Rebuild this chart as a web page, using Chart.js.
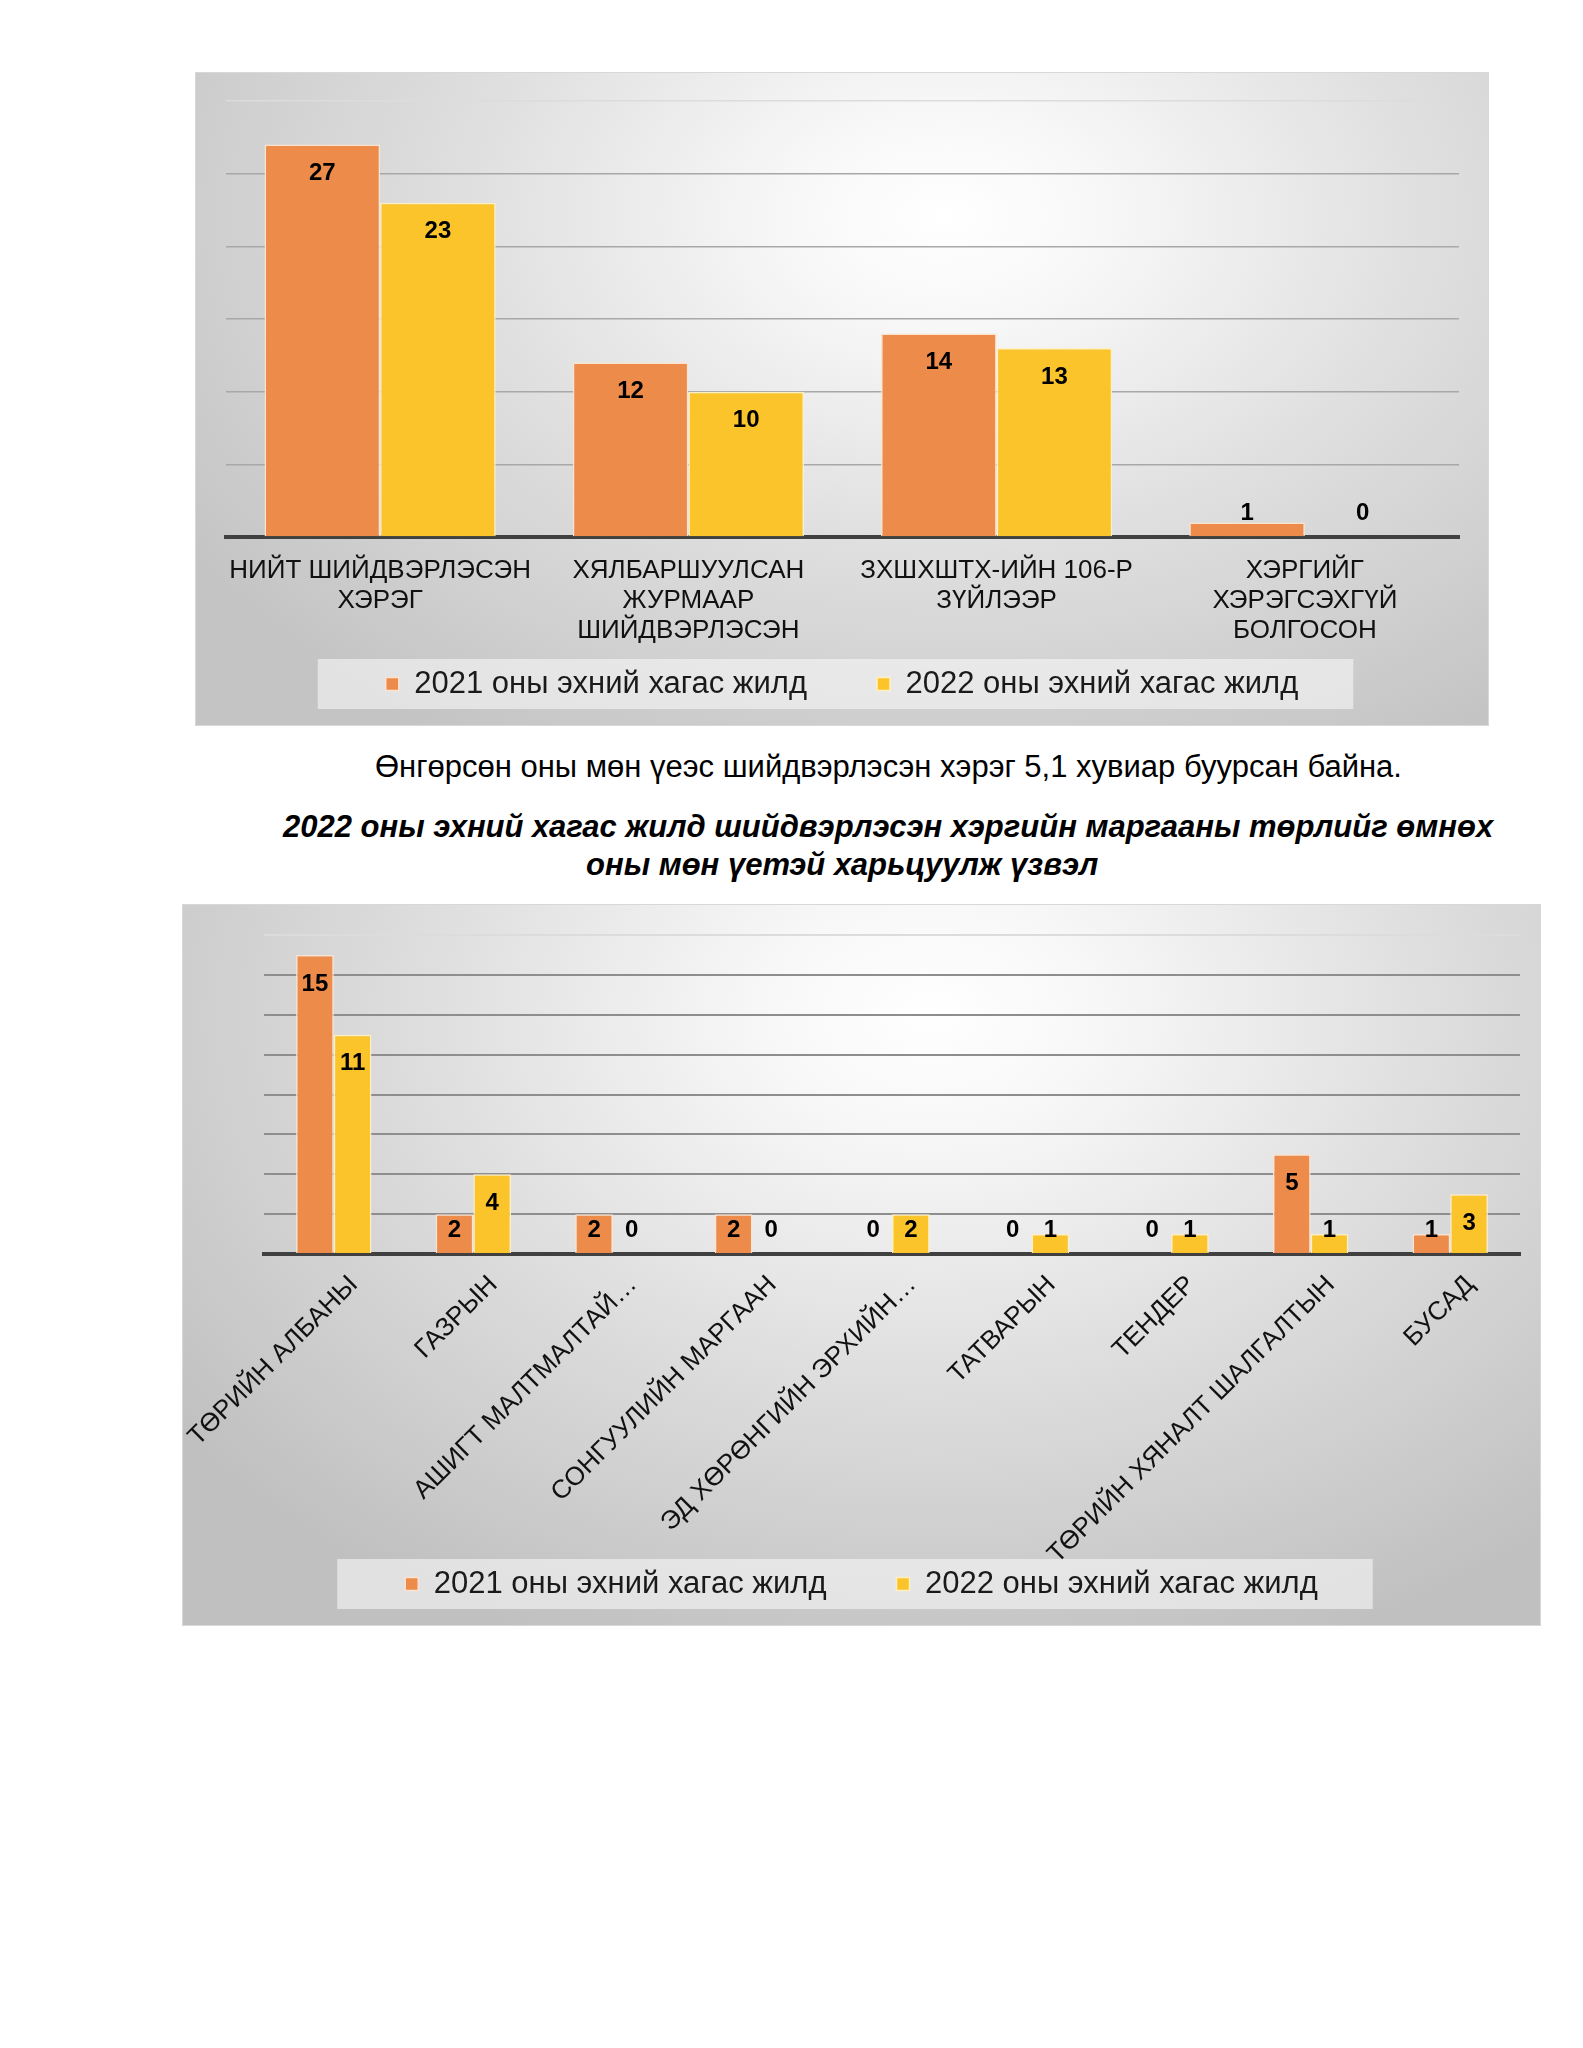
<!DOCTYPE html>
<html>
<head>
<meta charset="utf-8">
<title>Шийдвэрлэсэн хэрэг</title>
<script src="https://cdn.jsdelivr.net/npm/chart.js"></script>
<style>
  body { margin:0; width:1583px; height:2048px; background:#fff; position:relative;
         font-family:"Liberation Sans", Arial, sans-serif; color:#000; }
  .frame { position:absolute; box-shadow:0 0 0 1px #d8d8d8; }
  .frame canvas { position:absolute; left:0; top:0; }
  #f1 { left:196px; top:73px; width:1292px; height:652px;
        background:radial-gradient(ellipse 70% 95% at 58% 22%, #ffffff 0%, #f7f7f7 18%, #dedede 55%, #c4c4c4 100%); }
  #f2 { left:183px; top:905px; width:1357px; height:720px;
        background:radial-gradient(ellipse 70% 95% at 55% 15%, #ffffff 0%, #f7f7f7 18%, #dddddd 55%, #c0c0c0 100%); }
  .txt { position:absolute; white-space:nowrap; line-height:36px; }
  #note { left:375px; top:749px; font-size:31px; }
  .ttl { font-size:31px; font-weight:bold; font-style:italic; }
  #t1 { left:283px; top:809px; }
  #t2 { left:586px; top:847px; }
</style>
</head>
<body>
  <div class="frame" id="f1"><canvas id="chart1" width="1292" height="652"></canvas></div>
  <div class="txt" id="note">Өнгөрсөн оны мөн үеэс шийдвэрлэсэн хэрэг 5,1 хувиар буурсан байна.</div>
  <div class="txt ttl" id="t1">2022 оны эхний хагас жилд шийдвэрлэсэн хэргийн маргааны төрлийг өмнөх</div>
  <div class="txt ttl" id="t2">оны мөн үетэй харьцуулж үзвэл</div>
  <div class="frame" id="f2"><canvas id="chart2" width="1357" height="720"></canvas></div>

  <script>
    const FONT = '"Liberation Sans", Arial, sans-serif';
    const seriesNames = ["2021 оны эхний хагас жилд", "2022 оны эхний хагас жилд"];
    const seriesColors = ["#EC8B4A", "#FAC42A"];

    // first chart
    const cats1 = [
      ["НИЙТ ШИЙДВЭРЛЭСЭН", "ХЭРЭГ"],
      ["ХЯЛБАРШУУЛСАН", "ЖУРМААР", "ШИЙДВЭРЛЭСЭН"],
      ["ЗХШХШТХ-ИЙН 106-Р", "ЗҮЙЛЭЭР"],
      ["ХЭРГИЙГ", "ХЭРЭГСЭХГҮЙ", "БОЛГОСОН"]
    ];
    const h2021a = [27, 12, 14, 1];
    const h2022a = [23, 10, 13, 0];
    const yMax1 = 30, yStep1 = 5;

    // second chart
    const cats2 = ["ТӨРИЙН АЛБАНЫ", "ГАЗРЫН", "АШИГТ МАЛТМАЛТАЙ…", "СОНГУУЛИЙН МАРГААН",
                   "ЭД ХӨРӨНГИЙН ЭРХИЙН…", "ТАТВАРЫН", "ТЕНДЕР", "ТӨРИЙН ХЯНАЛТ ШАЛГАЛТЫН", "БУСАД"];
    const h2021b = [15, 2, 2, 2, 0, 0, 0, 5, 1];
    const h2022b = [11, 4, 0, 0, 2, 1, 1, 1, 3];
    const yMax2 = 16, yStep2 = 2;

    const LEG_FONT = 31, LEG_PAD = 70;

    // numbers inside the top of each bar, pushed up for tiny bars
    const valueLabels = {
      id: 'valueLabels',
      afterDatasetsDraw(chart) {
        const ctx = chart.ctx;
        const base = chart.scales.y.getPixelForValue(0);
        ctx.save();
        ctx.font = 'bold 24px ' + FONT;
        ctx.fillStyle = '#000';
        ctx.textAlign = 'center';
        ctx.textBaseline = 'middle';
        chart.data.datasets.forEach((ds, i) => {
          chart.getDatasetMeta(i).data.forEach((bar, j) => {
            const y = Math.min(bar.y + 29, base - 24);
            ctx.fillText(String(ds.data[j]), bar.x, y);
          });
        });
        ctx.restore();
      }
    };

    // legend row: centred on the whole frame, just under the axis labels, on a pale strip
    const legendPlace = {
      id: 'legendPlace',
      afterLayout(chart, args, o) {
        const lg = chart.legend;
        lg.left = 0;
        lg.right = chart.width;
        lg.width = chart.width;
        lg.top = o.centerY - LEG_PAD - LEG_FONT / 2;
        lg.height = LEG_PAD + LEG_FONT + 10;
        lg.bottom = lg.top + lg.height;
      },
      beforeDraw(chart) {
        const hb = chart.legend && chart.legend.legendHitBoxes;
        if (!hb || !hb.length) return;
        const first = hb[0], last = hb[hb.length - 1];
        const cy = first.top + first.height / 2;
        const ctx = chart.ctx;
        ctx.save();
        ctx.fillStyle = 'rgba(246,246,246,0.6)';
        ctx.fillRect(first.left - 68, cy - 25, last.left + last.width - first.left + 68 + 55, 50);
        ctx.restore();
      }
    };

    function makeChart(id, labels, a, b, opts) {
      return new Chart(document.getElementById(id), {
        type: 'bar',
        data: {
          labels: labels,
          datasets: [
            { label: seriesNames[0], data: a, backgroundColor: seriesColors[0],
              borderColor: '#FBE3CF', borderWidth: 1.5 },
            { label: seriesNames[1], data: b, backgroundColor: seriesColors[1],
              borderColor: '#FFF0C2', borderWidth: 1.5 }
          ]
        },
        options: {
          responsive: false,
          animation: false,
          layout: { padding: opts.padding },
          datasets: { bar: { categoryPercentage: opts.catPct, barPercentage: 1.0 } },
          plugins: {
            tooltip: { enabled: false },
            legendPlace: { centerY: opts.legendY },
            legend: {
              position: 'bottom',
              maxHeight: 10,
              labels: { boxWidth: 13, boxHeight: 13, padding: LEG_PAD, color: '#1a1a1a',
                        font: { family: FONT, size: LEG_FONT } }
            }
          },
          scales: {
            x: {
              grid: { display: false, drawTicks: false },
              border: { color: '#404040', width: 4 },
              ticks: {
                color: '#111', autoSkip: false, padding: opts.tickPad, labelOffset: opts.labelOff,
                minRotation: opts.rot, maxRotation: opts.rot,
                font: { family: FONT, size: 26, lineHeight: 1.15 }
              },
              afterFit(s) { s.height = opts.xHeight; s.paddingLeft = 0; s.paddingRight = 0; }
            },
            y: {
              min: 0, max: opts.yMax,
              ticks: { display: false, stepSize: opts.yStep },
              border: { display: false },
              grid: {
                drawTicks: false, lineWidth: opts.gridW,
                color: c => c.tick.value === 0 ? 'rgba(0,0,0,0)'
                          : (c.tick.value === opts.yMax ? '#dcdcdc' : opts.gridC)
              },
              afterFit(s) { s.width = 0; s.paddingTop = 0; s.paddingBottom = 0; }
            }
          }
        },
        plugins: [legendPlace, valueLabels]
      });
    }

    makeChart('chart1', cats1, h2021a, h2022a, {
      padding: { left: 30, right: 29, top: 28, bottom: 63 },
      catPct: 0.75, rot: 0, tickPad: 19, labelOff: 0, xHeight: 115, legendY: 611,
      yMax: yMax1, yStep: yStep1, gridW: 1.5, gridC: '#a8a8a8'
    });

    makeChart('chart2', cats2, h2021b, h2022b, {
      padding: { left: 81, right: 20, top: 30, bottom: 31 },
      catPct: 0.54, rot: 45, tickPad: 16, labelOff: 20, xHeight: 330, legendY: 679,
      yMax: yMax2, yStep: yStep2, gridW: 2, gridC: '#8e8e8e'
    });
  </script>
</body>
</html>
